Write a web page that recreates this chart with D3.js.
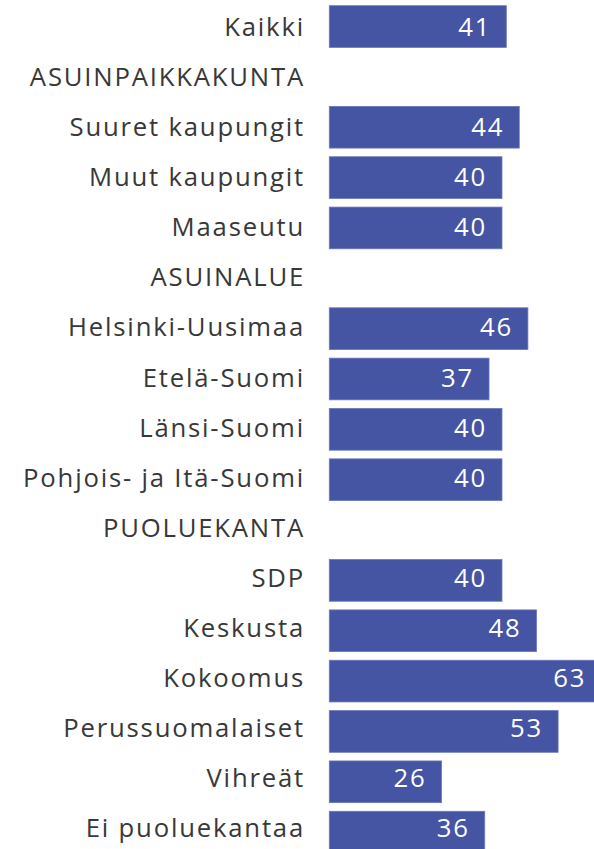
<!DOCTYPE html>
<html><head><meta charset="utf-8">
<script src="https://cdn.jsdelivr.net/npm/d3@7"></script>
<style>html,body{margin:0;padding:0;background:#fff;overflow:hidden}</style>
</head><body>
<svg id="c" width="594" height="849"></svg>
<script>
const categories = ["Kaikki","ASUINPAIKKAKUNTA","Suuret kaupungit","Muut kaupungit","Maaseutu","ASUINALUE","Helsinki-Uusimaa","Etelä-Suomi","Länsi-Suomi","Pohjois- ja Itä-Suomi","PUOLUEKANTA","SDP","Keskusta","Kokoomus","Perussuomalaiset","Vihreät","Ei puoluekantaa"];
const values = [41,null,44,40,40,null,46,37,40,40,null,40,48,63,53,26,36];

const svg = d3.select("#c");
const barStep = 50.35;
const y = d3.scaleBand().domain(categories)
  .range([1.37, 1.37 + categories.length * barStep])
  .paddingInner(0.172).paddingOuter(0.086);
const yLabel = d3.scalePoint().domain(categories).range([36, 837.3]);
const x = d3.scaleLinear().domain([0, 100]).range([329.3, 329.3 + 431.7]);

const rows = categories.map((c, i) => ({c, v: values[i]}));
const FONT = "Open Sans";

svg.selectAll("rect.bar").data(rows.filter(d => d.v != null)).join("rect")
  .attr("class","bar")
  .attr("x", x(0)).attr("y", d => y(d.c))
  .attr("width", d => x(d.v) - x(0)).attr("height", y.bandwidth())
  .attr("fill", "#4654a4").attr("stroke","#6a76b8").attr("stroke-width",0.8);

svg.selectAll("text.cat").data(rows).join("text")
  .attr("class","cat")
  .attr("x", 305).attr("y", d => yLabel(d.c))
  .attr("text-anchor","end")
  .attr("font-family",FONT).attr("font-size",25.7).attr("letter-spacing","1.8px")
  .attr("fill","#383838").text(d => d.c);

svg.selectAll("text.val").data(rows.filter(d => d.v != null)).join("text")
  .attr("class","val")
  .attr("x", d => x(d.v) - 15).attr("y", d => yLabel(d.c))
  .attr("text-anchor","end")
  .attr("font-family",FONT).attr("font-size",25.7).attr("letter-spacing","1.8px")
  .attr("fill","#ffffff").text(d => d.v);
</script>
</body></html>
